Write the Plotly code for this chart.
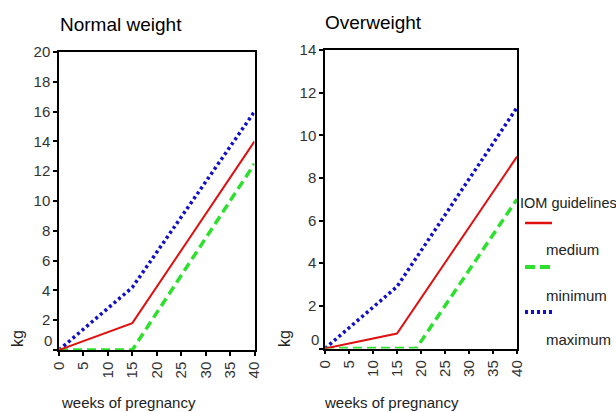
import plotly.graph_objects as go

# ---- data ----
weeks = [0, 15, 40]
normal_medium = [0, 1.8, 14]
normal_minimum = [0, 0, 12.5]
normal_maximum = [0, 4.2, 16]

ow_weeks = [0, 15, 40]
ow_min_weeks = [0, 19, 40]
ow_medium = [0, 0.7, 9]
ow_minimum = [0, 0, 7]
ow_maximum = [0, 2.9, 11.3]

x_ticks = [0, 5, 10, 15, 20, 25, 30, 35, 40]
normal_yticks = [0, 2, 4, 6, 8, 10, 12, 14, 16, 18, 20]
ow_yticks = [0, 2, 4, 6, 8, 10, 12, 14]

RED = "#e01010"
GREEN = "#2ee02e"
BLUE = "#1010c8"
FONT = "Liberation Sans"

fig = go.Figure()

def add_series(x, y, color, dash, width, xa, ya):
    fig.add_trace(go.Scatter(x=x, y=y, mode="lines", xaxis=xa, yaxis=ya,
                             line=dict(color=color, dash=dash, width=width),
                             showlegend=False, hoverinfo="skip"))

# draw order: maximum, minimum, medium
add_series(weeks, normal_maximum, BLUE, "3px,3px", 3.5, "x", "y")
add_series(weeks, normal_minimum, GREEN, "9px,5px", 3.5, "x", "y")
add_series(weeks, normal_medium, RED, "solid", 2, "x", "y")
add_series(ow_weeks, ow_maximum, BLUE, "3px,3px", 3.5, "x2", "y2")
add_series(ow_min_weeks, ow_minimum, GREEN, "9px,5px", 3.5, "x2", "y2")
add_series(ow_weeks, ow_medium, RED, "solid", 2, "x2", "y2")

W, H = 616, 412
def px(x): return x / W
def py(y): return (H - y) / H

axis_common = dict(showline=True, linecolor="black", linewidth=1.5, mirror=True,
                   ticks="outside", ticklen=4, tickwidth=2, tickcolor="black",
                   showgrid=False, zeroline=False, automargin=False,
                   tickfont=dict(family=FONT, size=15, color="#333333"))

fig.update_layout(
    width=W, height=H, margin=dict(l=0, r=0, t=0, b=0, autoexpand=False),
    paper_bgcolor="white", plot_bgcolor="white",
    xaxis=dict(domain=[px(59), px(254.5)], range=[0, 40], tickvals=x_ticks,
               tickangle=-90, anchor="y", **axis_common),
    yaxis=dict(domain=[py(350), py(52)], range=[0, 20], tickvals=normal_yticks,
               ticktext=[""] + [str(v) for v in normal_yticks[1:]], anchor="x",
               **axis_common),
    xaxis2=dict(domain=[px(325), px(517)], range=[0, 40], tickvals=x_ticks,
                tickangle=-90, anchor="y2", **axis_common),
    yaxis2=dict(domain=[py(348.5), py(50)], range=[0, 14], tickvals=ow_yticks,
                ticktext=[""] + [str(v) for v in ow_yticks[1:]], anchor="x2",
                **axis_common),
)

ann = []
def text(x, y, s, size=15, xanchor="left", angle=0, color="#222222"):
    ann.append(dict(x=px(x), y=py(y), xref="paper", yref="paper", text=s,
                    showarrow=False, xanchor=xanchor, yanchor="middle",
                    textangle=angle,
                    font=dict(family=FONT, size=size, color=color)))

text(58, 25, "Normal weight", size=19, color="black")
text(323, 23, "Overweight", size=19, color="black")
text(48, 340, "0", xanchor="center", color="#333333")
text(315, 339, "0", xanchor="center", color="#333333")
text(17, 339, "kg", xanchor="center", angle=-90, size=16)
text(284, 339, "kg", xanchor="center", angle=-90, size=16)
text(59, 402, "weeks of pregnancy")
text(322, 402, "weeks of pregnancy")
text(518, 203, "IOM guidelines", size=14.5)
text(544, 250, "medium")
text(544, 295, "minimum")
text(544, 339, "maximum")
fig.update_layout(annotations=ann)

shapes = [
    dict(type="line", xref="paper", yref="paper", x0=px(525), x1=px(552),
         y0=py(223), y1=py(223), line=dict(color=RED, width=2.5)),
    dict(type="line", xref="paper", yref="paper", x0=px(525), x1=px(552),
         y0=py(267), y1=py(267), line=dict(color=GREEN, width=4, dash="10px,5px")),
    dict(type="line", xref="paper", yref="paper", x0=px(525), x1=px(552),
         y0=py(312), y1=py(312), line=dict(color=BLUE, width=4, dash="3px,3px")),
]
fig.update_layout(shapes=shapes)

fig.write_html("out.html", config={"displayModeBar": False},
               post_script="document.body.style.margin='0';document.body.style.overflow='hidden';")
